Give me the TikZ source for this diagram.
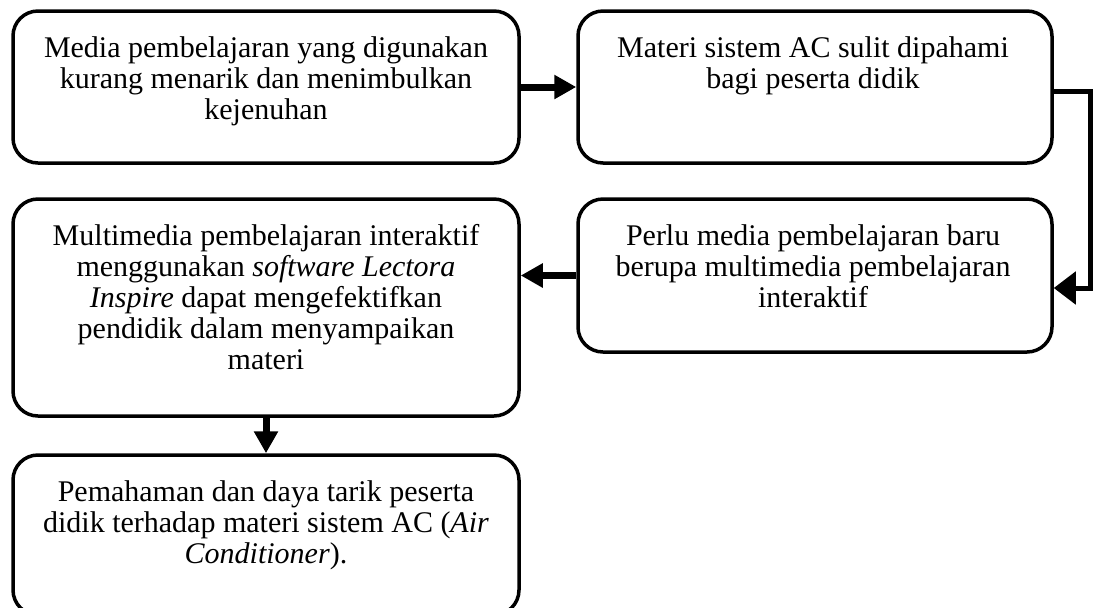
\documentclass[tikz,border=0pt]{standalone}
\usepackage{fontspec}
\setmainfont{Liberation Serif}
\usetikzlibrary{arrows.meta}
\begin{document}
\begin{tikzpicture}[x=0.5pt,y=-0.5pt,
  box/.style={draw,line width=1.75pt,rounded corners=12.5pt,inner sep=0pt},
  txt/.style={anchor=north,align=center,inner sep=0pt,font=\fontsize{15pt}{15.5pt}\selectfont},
  arr/.style={line width=3.5pt,-{Triangle[length=11pt,width=11.5pt]}},
  elb/.style={line width=2.5pt,-{Triangle[length=11pt,width=16pt]}}]
\useasboundingbox (0,0) rectangle (1094,607);
% boxes
\node[box,minimum width=253pt,minimum height=76pt] (b1) at (266,87) {};
\node[box,minimum width=237pt,minimum height=76pt] (b2) at (815,87) {};
\node[box,minimum width=237pt,minimum height=76.5pt] (b4) at (815,275.5) {};
\node[box,minimum width=253pt,minimum height=108.5pt] (b3) at (266,307.5) {};
\node[box,minimum width=253pt,minimum height=80pt] (b5) at (266,535) {};
% texts
\node[txt] (t1) at (266,36) {Media pembelajaran yang digunakan\\kurang menarik dan menimbulkan\\kejenuhan};
\node[txt] (t2) at (813,36) {Materi sistem AC sulit dipahami\\bagi peserta didik};
\node[txt] (t4) at (813,224) {Perlu media pembelajaran baru\\berupa multimedia pembelajaran\\interaktif};
\node[txt] (t3) at (266,224) {Multimedia pembelajaran interaktif\\menggunakan \textit{software Lectora}\\\textit{Inspire} dapat mengefektifkan\\pendidik dalam menyampaikan\\materi};
\node[txt] (t5) at (266,480) {Pemahaman dan daya tarik peserta\\didik terhadap materi sistem AC (\textit{Air}\\\textit{Conditioner}).};
% connectors
\coordinate (c1) at (1090,91);
\coordinate (c2) at (1090,288);
\draw[arr] (b1.east) -- (b2.west);
\draw[elb] (b2.east |- c1) -- (c1) -- (c2) -- (b4.east |- c2);
\draw[arr] (b4.west) -- (b4.west -| b3.east);
\draw[arr] (b3.south) -- (b5.north);
\end{tikzpicture}
\end{document}
